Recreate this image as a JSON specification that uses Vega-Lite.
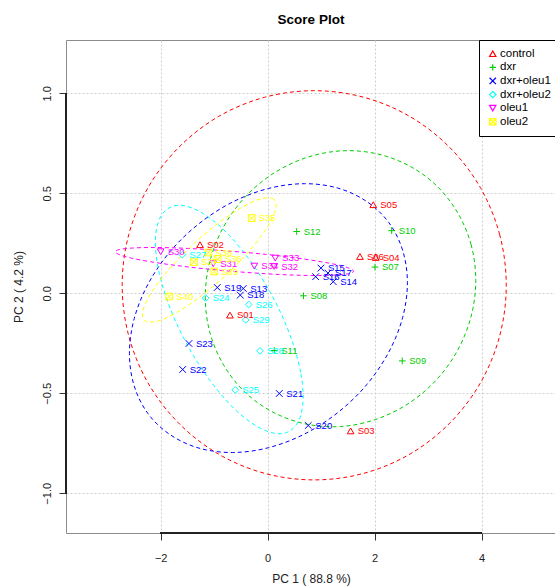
{
  "$schema": "https://vega.github.io/schema/vega-lite/v6.json",
  "width": 490,
  "height": 493,
  "autosize": {"type": "none"},
  "padding": {"left": 66, "top": 40, "right": 0, "bottom": 53},
  "background": "white",
  "title": {"text": "Score Plot", "fontSize": 13.5, "fontWeight": "bold", "font": "Liberation Sans", "color": "#000000", "offset": 13},
  "config": {
    "view": {"stroke": "#8c8c8c", "strokeWidth": 1},
    "font": "Liberation Sans"
  },
  "datasets": {
    "points": [
      {"group": "control", "label": "S01", "x": -0.705, "y": -0.109},
      {"group": "control", "label": "S02", "x": -1.265, "y": 0.243},
      {"group": "control", "label": "S03", "x": 1.551, "y": -0.688},
      {"group": "control", "label": "S04", "x": 2.019, "y": 0.179},
      {"group": "control", "label": "S05", "x": 1.974, "y": 0.443},
      {"group": "control", "label": "S06", "x": 1.725, "y": 0.184},
      {"group": "dxr", "label": "S07", "x": 2.006, "y": 0.131},
      {"group": "dxr", "label": "S08", "x": 0.669, "y": -0.0125},
      {"group": "dxr", "label": "S09", "x": 2.516, "y": -0.338},
      {"group": "dxr", "label": "S10", "x": 2.318, "y": 0.313},
      {"group": "dxr", "label": "S11", "x": 0.123, "y": -0.286},
      {"group": "dxr", "label": "S12", "x": 0.542, "y": 0.309},
      {"group": "dxr+oleu1", "label": "S13", "x": -0.456, "y": 0.024},
      {"group": "dxr+oleu1", "label": "S14", "x": 1.226, "y": 0.058},
      {"group": "dxr+oleu1", "label": "S15", "x": 0.996, "y": 0.126},
      {"group": "dxr+oleu1", "label": "S16", "x": 0.897, "y": 0.083},
      {"group": "dxr+oleu1", "label": "S17", "x": 1.127, "y": 0.101},
      {"group": "dxr+oleu1", "label": "S18", "x": -0.512, "y": -0.009},
      {"group": "dxr+oleu1", "label": "S19", "x": -0.942, "y": 0.029},
      {"group": "dxr+oleu1", "label": "S20", "x": 0.759, "y": -0.661},
      {"group": "dxr+oleu1", "label": "S21", "x": 0.217, "y": -0.501},
      {"group": "dxr+oleu1", "label": "S22", "x": -1.589, "y": -0.381},
      {"group": "dxr+oleu1", "label": "S23", "x": -1.471, "y": -0.251},
      {"group": "dxr+oleu2", "label": "S24", "x": -1.159, "y": -0.024},
      {"group": "dxr+oleu2", "label": "S25", "x": -0.606, "y": -0.483},
      {"group": "dxr+oleu2", "label": "S26", "x": -0.355, "y": -0.056},
      {"group": "dxr+oleu2", "label": "S27", "x": -1.596, "y": 0.193},
      {"group": "dxr+oleu2", "label": "S28", "x": -0.144, "y": -0.288},
      {"group": "dxr+oleu2", "label": "S29", "x": -0.411, "y": -0.133},
      {"group": "oleu1", "label": "S30", "x": -2.0, "y": 0.208},
      {"group": "oleu1", "label": "S31", "x": -1.017, "y": 0.148},
      {"group": "oleu1", "label": "S32", "x": 0.123, "y": 0.134},
      {"group": "oleu1", "label": "S33", "x": 0.142, "y": 0.176},
      {"group": "oleu1", "label": "S34", "x": -0.25, "y": 0.136},
      {"group": "oleu2", "label": "S35", "x": -0.299, "y": 0.376},
      {"group": "oleu2", "label": "S36", "x": -0.935, "y": 0.171},
      {"group": "oleu2", "label": "S37", "x": -1.378, "y": 0.156},
      {"group": "oleu2", "label": "S38", "x": -1.11, "y": 0.204},
      {"group": "oleu2", "label": "S39", "x": -0.998, "y": 0.109},
      {"group": "oleu2", "label": "S40", "x": -1.839, "y": -0.016}
    ],
    "ellipses": [
      {"group": "control", "i": 0, "x": 4.46, "y": 0.04},
      {"group": "control", "i": 1, "x": 4.338, "y": 0.292},
      {"group": "control", "i": 2, "x": 3.979, "y": 0.527},
      {"group": "control", "i": 3, "x": 3.408, "y": 0.728},
      {"group": "control", "i": 4, "x": 2.665, "y": 0.883},
      {"group": "control", "i": 5, "x": 1.799, "y": 0.98},
      {"group": "control", "i": 6, "x": 0.87, "y": 1.013},
      {"group": "control", "i": 7, "x": -0.059, "y": 0.98},
      {"group": "control", "i": 8, "x": -0.925, "y": 0.883},
      {"group": "control", "i": 9, "x": -1.668, "y": 0.728},
      {"group": "control", "i": 10, "x": -2.239, "y": 0.527},
      {"group": "control", "i": 11, "x": -2.598, "y": 0.292},
      {"group": "control", "i": 12, "x": -2.72, "y": 0.04},
      {"group": "control", "i": 13, "x": -2.598, "y": -0.212},
      {"group": "control", "i": 14, "x": -2.239, "y": -0.447},
      {"group": "control", "i": 15, "x": -1.668, "y": -0.648},
      {"group": "control", "i": 16, "x": -0.925, "y": -0.803},
      {"group": "control", "i": 17, "x": -0.059, "y": -0.9},
      {"group": "control", "i": 18, "x": 0.87, "y": -0.933},
      {"group": "control", "i": 19, "x": 1.799, "y": -0.9},
      {"group": "control", "i": 20, "x": 2.665, "y": -0.803},
      {"group": "control", "i": 21, "x": 3.408, "y": -0.648},
      {"group": "control", "i": 22, "x": 3.979, "y": -0.447},
      {"group": "control", "i": 23, "x": 4.338, "y": -0.212},
      {"group": "dxr", "i": 0, "x": 3.89, "y": 0.065},
      {"group": "dxr", "i": 1, "x": 3.804, "y": 0.242},
      {"group": "dxr", "i": 2, "x": 3.551, "y": 0.403},
      {"group": "dxr", "i": 3, "x": 3.15, "y": 0.54},
      {"group": "dxr", "i": 4, "x": 2.626, "y": 0.64},
      {"group": "dxr", "i": 5, "x": 2.016, "y": 0.699},
      {"group": "dxr", "i": 6, "x": 1.362, "y": 0.712},
      {"group": "dxr", "i": 7, "x": 0.708, "y": 0.677},
      {"group": "dxr", "i": 8, "x": 0.098, "y": 0.598},
      {"group": "dxr", "i": 9, "x": -0.426, "y": 0.48},
      {"group": "dxr", "i": 10, "x": -0.827, "y": 0.331},
      {"group": "dxr", "i": 11, "x": -1.08, "y": 0.16},
      {"group": "dxr", "i": 12, "x": -1.166, "y": -0.019},
      {"group": "dxr", "i": 13, "x": -1.08, "y": -0.196},
      {"group": "dxr", "i": 14, "x": -0.827, "y": -0.357},
      {"group": "dxr", "i": 15, "x": -0.426, "y": -0.494},
      {"group": "dxr", "i": 16, "x": 0.098, "y": -0.594},
      {"group": "dxr", "i": 17, "x": 0.708, "y": -0.653},
      {"group": "dxr", "i": 18, "x": 1.362, "y": -0.666},
      {"group": "dxr", "i": 19, "x": 2.016, "y": -0.631},
      {"group": "dxr", "i": 20, "x": 2.626, "y": -0.552},
      {"group": "dxr", "i": 21, "x": 3.15, "y": -0.434},
      {"group": "dxr", "i": 22, "x": 3.551, "y": -0.285},
      {"group": "dxr", "i": 23, "x": 3.804, "y": -0.114},
      {"group": "dxr+oleu1", "i": 0, "x": 2.612, "y": 0.053},
      {"group": "dxr+oleu1", "i": 1, "x": 2.523, "y": 0.215},
      {"group": "dxr+oleu1", "i": 2, "x": 2.264, "y": 0.354},
      {"group": "dxr+oleu1", "i": 3, "x": 1.851, "y": 0.459},
      {"group": "dxr+oleu1", "i": 4, "x": 1.313, "y": 0.526},
      {"group": "dxr+oleu1", "i": 5, "x": 0.686, "y": 0.548},
      {"group": "dxr+oleu1", "i": 6, "x": 0.014, "y": 0.524},
      {"group": "dxr+oleu1", "i": 7, "x": -0.658, "y": 0.456},
      {"group": "dxr+oleu1", "i": 8, "x": -1.285, "y": 0.348},
      {"group": "dxr+oleu1", "i": 9, "x": -1.823, "y": 0.209},
      {"group": "dxr+oleu1", "i": 10, "x": -2.236, "y": 0.046},
      {"group": "dxr+oleu1", "i": 11, "x": -2.495, "y": -0.127},
      {"group": "dxr+oleu1", "i": 12, "x": -2.584, "y": -0.301},
      {"group": "dxr+oleu1", "i": 13, "x": -2.495, "y": -0.463},
      {"group": "dxr+oleu1", "i": 14, "x": -2.236, "y": -0.602},
      {"group": "dxr+oleu1", "i": 15, "x": -1.823, "y": -0.707},
      {"group": "dxr+oleu1", "i": 16, "x": -1.285, "y": -0.774},
      {"group": "dxr+oleu1", "i": 17, "x": -0.658, "y": -0.796},
      {"group": "dxr+oleu1", "i": 18, "x": 0.014, "y": -0.772},
      {"group": "dxr+oleu1", "i": 19, "x": 0.686, "y": -0.704},
      {"group": "dxr+oleu1", "i": 20, "x": 1.313, "y": -0.596},
      {"group": "dxr+oleu1", "i": 21, "x": 1.851, "y": -0.457},
      {"group": "dxr+oleu1", "i": 22, "x": 2.264, "y": -0.294},
      {"group": "dxr+oleu1", "i": 23, "x": 2.523, "y": -0.121},
      {"group": "dxr+oleu2", "i": 0, "x": 0.663, "y": -0.517},
      {"group": "dxr+oleu2", "i": 1, "x": 0.616, "y": -0.395},
      {"group": "dxr+oleu2", "i": 2, "x": 0.478, "y": -0.255},
      {"group": "dxr+oleu2", "i": 3, "x": 0.259, "y": -0.106},
      {"group": "dxr+oleu2", "i": 4, "x": -0.027, "y": 0.04},
      {"group": "dxr+oleu2", "i": 5, "x": -0.361, "y": 0.175},
      {"group": "dxr+oleu2", "i": 6, "x": -0.718, "y": 0.29},
      {"group": "dxr+oleu2", "i": 7, "x": -1.075, "y": 0.375},
      {"group": "dxr+oleu2", "i": 8, "x": -1.409, "y": 0.426},
      {"group": "dxr+oleu2", "i": 9, "x": -1.695, "y": 0.44},
      {"group": "dxr+oleu2", "i": 10, "x": -1.914, "y": 0.413},
      {"group": "dxr+oleu2", "i": 11, "x": -2.052, "y": 0.351},
      {"group": "dxr+oleu2", "i": 12, "x": -2.099, "y": 0.255},
      {"group": "dxr+oleu2", "i": 13, "x": -2.052, "y": 0.133},
      {"group": "dxr+oleu2", "i": 14, "x": -1.914, "y": -0.007},
      {"group": "dxr+oleu2", "i": 15, "x": -1.695, "y": -0.156},
      {"group": "dxr+oleu2", "i": 16, "x": -1.409, "y": -0.302},
      {"group": "dxr+oleu2", "i": 17, "x": -1.075, "y": -0.437},
      {"group": "dxr+oleu2", "i": 18, "x": -0.718, "y": -0.552},
      {"group": "dxr+oleu2", "i": 19, "x": -0.361, "y": -0.637},
      {"group": "dxr+oleu2", "i": 20, "x": -0.027, "y": -0.688},
      {"group": "dxr+oleu2", "i": 21, "x": 0.259, "y": -0.702},
      {"group": "dxr+oleu2", "i": 22, "x": 0.478, "y": -0.675},
      {"group": "dxr+oleu2", "i": 23, "x": 0.616, "y": -0.613},
      {"group": "oleu1", "i": 0, "x": 1.605, "y": 0.11},
      {"group": "oleu1", "i": 1, "x": 1.529, "y": 0.125},
      {"group": "oleu1", "i": 2, "x": 1.307, "y": 0.142},
      {"group": "oleu1", "i": 3, "x": 0.953, "y": 0.16},
      {"group": "oleu1", "i": 4, "x": 0.493, "y": 0.178},
      {"group": "oleu1", "i": 5, "x": -0.044, "y": 0.195},
      {"group": "oleu1", "i": 6, "x": -0.62, "y": 0.209},
      {"group": "oleu1", "i": 7, "x": -1.196, "y": 0.22},
      {"group": "oleu1", "i": 8, "x": -1.733, "y": 0.227},
      {"group": "oleu1", "i": 9, "x": -2.193, "y": 0.229},
      {"group": "oleu1", "i": 10, "x": -2.547, "y": 0.226},
      {"group": "oleu1", "i": 11, "x": -2.769, "y": 0.219},
      {"group": "oleu1", "i": 12, "x": -2.845, "y": 0.208},
      {"group": "oleu1", "i": 13, "x": -2.769, "y": 0.193},
      {"group": "oleu1", "i": 14, "x": -2.547, "y": 0.176},
      {"group": "oleu1", "i": 15, "x": -2.193, "y": 0.158},
      {"group": "oleu1", "i": 16, "x": -1.733, "y": 0.14},
      {"group": "oleu1", "i": 17, "x": -1.196, "y": 0.123},
      {"group": "oleu1", "i": 18, "x": -0.62, "y": 0.109},
      {"group": "oleu1", "i": 19, "x": -0.044, "y": 0.098},
      {"group": "oleu1", "i": 20, "x": 0.493, "y": 0.091},
      {"group": "oleu1", "i": 21, "x": 0.953, "y": 0.089},
      {"group": "oleu1", "i": 22, "x": 1.307, "y": 0.092},
      {"group": "oleu1", "i": 23, "x": 1.529, "y": 0.099},
      {"group": "oleu2", "i": 0, "x": 0.159, "y": 0.441},
      {"group": "oleu2", "i": 1, "x": 0.116, "y": 0.47},
      {"group": "oleu2", "i": 2, "x": -0.008, "y": 0.478},
      {"group": "oleu2", "i": 3, "x": -0.207, "y": 0.466},
      {"group": "oleu2", "i": 4, "x": -0.466, "y": 0.432},
      {"group": "oleu2", "i": 5, "x": -0.767, "y": 0.381},
      {"group": "oleu2", "i": 6, "x": -1.091, "y": 0.315},
      {"group": "oleu2", "i": 7, "x": -1.415, "y": 0.239},
      {"group": "oleu2", "i": 8, "x": -1.716, "y": 0.158},
      {"group": "oleu2", "i": 9, "x": -1.975, "y": 0.078},
      {"group": "oleu2", "i": 10, "x": -2.174, "y": 0.004},
      {"group": "oleu2", "i": 11, "x": -2.298, "y": -0.06},
      {"group": "oleu2", "i": 12, "x": -2.341, "y": -0.107},
      {"group": "oleu2", "i": 13, "x": -2.298, "y": -0.136},
      {"group": "oleu2", "i": 14, "x": -2.174, "y": -0.144},
      {"group": "oleu2", "i": 15, "x": -1.975, "y": -0.132},
      {"group": "oleu2", "i": 16, "x": -1.716, "y": -0.098},
      {"group": "oleu2", "i": 17, "x": -1.415, "y": -0.047},
      {"group": "oleu2", "i": 18, "x": -1.091, "y": 0.019},
      {"group": "oleu2", "i": 19, "x": -0.767, "y": 0.095},
      {"group": "oleu2", "i": 20, "x": -0.466, "y": 0.176},
      {"group": "oleu2", "i": 21, "x": -0.207, "y": 0.256},
      {"group": "oleu2", "i": 22, "x": -0.008, "y": 0.33},
      {"group": "oleu2", "i": 23, "x": 0.116, "y": 0.394}
    ]
  },
  "encoding": {
    "x": {
      "field": "x", "type": "quantitative",
      "scale": {"domain": [-3.77, 5.39], "nice": false, "zero": false},
      "axis": {
        "values": [-2, 0, 2, 4], "format": "d", "domain": false,
        "grid": true, "gridColor": "#cfcfcf", "gridDash": [2, 2], "gridWidth": 1,
        "tickSize": 7, "tickColor": "#333333", "tickWidth": 1,
        "labelFontSize": 11, "labelColor": "#222222", "labelPadding": 12, "labelFont": "Liberation Sans",
        "title": "PC 1 ( 88.8 %)", "titleFontSize": 12, "titleFontWeight": "normal", "titleColor": "#222222",
        "titleFont": "Liberation Sans", "titleX": 245, "titleY": 45, "titleAlign": "center", "titleBaseline": "middle"
      }
    },
    "y": {
      "field": "y", "type": "quantitative",
      "scale": {"domain": [-1.1985, 1.2665], "nice": false, "zero": false},
      "axis": {
        "values": [-1, -0.5, 0, 0.5, 1], "format": ".1f", "domain": false,
        "grid": true, "gridColor": "#cfcfcf", "gridDash": [2, 2], "gridWidth": 1,
        "tickSize": 7, "tickColor": "#333333", "tickWidth": 1,
        "labelFontSize": 11, "labelColor": "#222222", "labelPadding": 7, "labelAngle": -90,
        "labelAlign": "center", "labelBaseline": "bottom", "labelFont": "Liberation Sans",
        "title": "PC 2 ( 4.2 %)", "titleFontSize": 12, "titleFontWeight": "normal", "titleColor": "#222222",
        "titleFont": "Liberation Sans", "titleX": -48, "titleY": 246.5, "titleAngle": -90, "titleAlign": "center", "titleBaseline": "middle"
      }
    }
  },
  "layer": [
    {
      "data": {"name": "ellipses"},
      "mark": {"type": "line", "interpolate": "cardinal-closed", "strokeDash": [4, 3], "strokeWidth": 1},
      "encoding": {
        "stroke": {"field": "group", "type": "nominal", "legend": null,
          "scale": {"domain": ["oleu2", "oleu1", "dxr+oleu2", "dxr+oleu1", "dxr", "control"],
                    "range": ["#ffff00", "#ff00ff", "#00ffff", "#0000ff", "#00cd00", "#ff0000"]}},
        "detail": {"field": "group"},
        "order": {"field": "i", "type": "quantitative"}
      }
    },
    {
      "data": {"name": "points"},
      "mark": {"type": "rule", "color": "#222222", "strokeWidth": 1},
      "encoding": {
        "x": {"datum": -2, "type": "quantitative"},
        "x2": {"datum": 4},
        "y": {"datum": -1.1985, "type": "quantitative"}
      }
    },
    {
      "data": {"name": "points"},
      "mark": {"type": "rule", "color": "#222222", "strokeWidth": 1},
      "encoding": {
        "x": {"datum": -3.77, "type": "quantitative"},
        "y": {"datum": -1, "type": "quantitative"},
        "y2": {"datum": 1}
      }
    },
    {
      "data": {"name": "points"},
      "mark": {"type": "point", "filled": false, "size": 45, "strokeWidth": 1, "opacity": 1},
      "encoding": {
        "color": {"field": "group", "type": "nominal",
          "scale": {"domain": ["control", "dxr", "dxr+oleu1", "dxr+oleu2", "oleu1", "oleu2"],
                    "range": ["#ff0000", "#00cd00", "#0000ff", "#00ffff", "#ff00ff", "#ffff00"]},
          "legend": {"orient": "none", "legendX": 413, "legendY": 0, "title": null, "padding": 8,
            "strokeColor": "#000000", "fillColor": "#ffffff", "labelFontSize": 11.5, "labelFont": "Liberation Sans",
            "labelColor": "#000000", "labelOffset": 1.5, "rowPadding": 0.6, "symbolSize": 40, "symbolStrokeWidth": 1.2}},
        "shape": {"field": "group", "type": "nominal",
          "scale": {"domain": ["control", "dxr", "dxr+oleu1", "dxr+oleu2", "oleu1", "oleu2"],
                    "range": ["triangle-up", "M-1,0L1,0M0,-1L0,1", "M-1,-1L1,1M-1,1L1,-1", "diamond", "triangle-down", "M-1,-1L1,-1L1,1L-1,1ZM-1,-1L1,1M-1,1L1,-1"]},
          "legend": {"orient": "none", "legendX": 413, "legendY": 0, "title": null, "padding": 8,
            "strokeColor": "#000000", "fillColor": "#ffffff", "labelFontSize": 11.5, "labelFont": "Liberation Sans",
            "labelColor": "#000000", "labelOffset": 1.5, "rowPadding": 0.6, "symbolSize": 40, "symbolStrokeWidth": 1.2}}
      }
    },
    {
      "data": {"name": "points"},
      "mark": {"type": "text", "align": "left", "baseline": "middle", "dx": 7, "fontSize": 9.5, "font": "Liberation Sans"},
      "encoding": {
        "text": {"field": "label"},
        "fill": {"field": "group", "type": "nominal", "legend": null,
          "scale": {"domain": ["dxr", "control", "dxr+oleu2", "dxr+oleu1", "oleu2", "oleu1"],
                    "range": ["#00cd00", "#ff0000", "#00ffff", "#0000ff", "#ffff00", "#ff00ff"]}}
      }
    }
  ]
}
